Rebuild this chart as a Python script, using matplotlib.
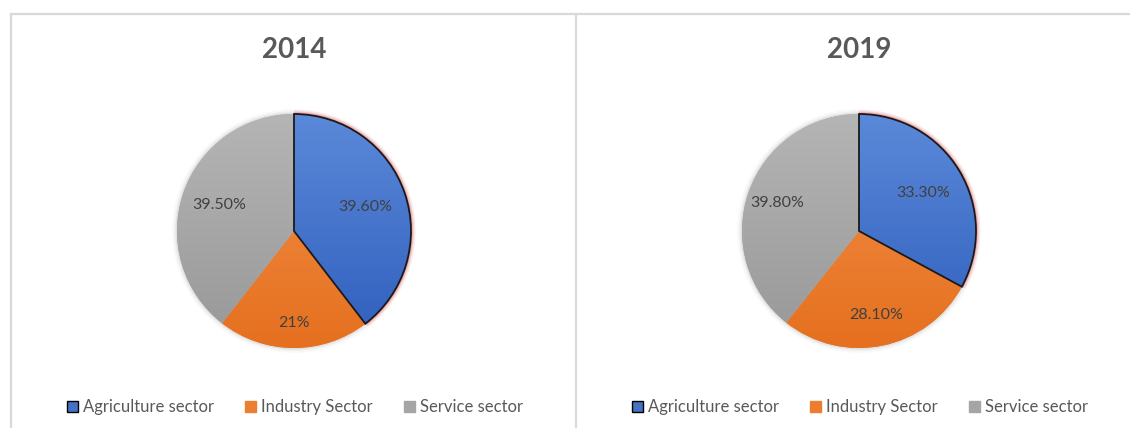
import numpy as np
import matplotlib.pyplot as plt
from matplotlib.colors import to_rgba
from matplotlib.patches import Patch, Arc, Circle, Wedge
from matplotlib.lines import Line2D

plt.rcParams['font.family'] = ['Lato', 'DejaVu Sans']

sectors = ['Agriculture sector', 'Industry Sector', 'Service sector']
share_2014 = [39.6, 21.0, 39.5]
share_2019 = [33.3, 28.1, 39.8]
labels_2014 = ['39.60%', '21%', '39.50%']
labels_2019 = ['33.30%', '28.10%', '39.80%']

base = ['#4472C4', '#ED7D31', '#A5A5A5']
tops = ['#5B89D9', '#F3904A', '#B5B5B5']
bottoms = ['#2F5EBD', '#E5701F', '#989898']

W, H = 1130, 428
fig = plt.figure(figsize=(W / 100, H / 100), dpi=100)


def px(x, y):
    return x / W, 1 - y / H


# chart frames
for xs, ys in [([11, 1130], [14, 14]), ([11, 11], [14, 428]), ([576, 576], [14, 428])]:
    fig.add_artist(Line2D([x / W for x in xs], [1 - y / H for y in ys],
                          color='#D9D9D9', lw=1.6))


def draw_pie(cx, cy, values, labels, title, dists):
    r = 117
    half = 140
    ax = fig.add_axes([(cx - half) / W, 1 - (cy + half) / H, 2 * half / W, 2 * half / H])
    lim = half / r
    ax.axis('off')

    # soft shadow round the pie
    for w, a in [(7, 0.05), (4, 0.08), (2, 0.12)]:
        ax.add_patch(Circle((0, 0), 1.0, fill=False, ec='#808080', lw=w, alpha=a, zorder=0.5))

    wedges, _ = ax.pie(values, startangle=90, counterclock=False, radius=1,
                       colors=base, wedgeprops=dict(lw=0))
    ax.set_xlim(-lim, lim)
    ax.set_ylim(-lim, lim)

    # top-to-bottom shading inside each slice
    for i, wd in enumerate(wedges):
        wd.set_zorder(1)
        c1 = np.array(to_rgba(tops[i]))
        c2 = np.array(to_rgba(bottoms[i]))
        t = np.linspace(0, 1, 256)[:, None, None]
        grad = c1 * (1 - t) + c2 * t
        im = ax.imshow(grad, extent=(-1, 1, -1, 1), origin='upper', aspect='auto',
                       interpolation='bilinear', zorder=1.1)
        im.set_clip_path(wd)

    # red glow and dark outline on the first slice
    blue = wedges[0]
    for w, a in [(6, 0.08), (4, 0.12), (2.5, 0.2)]:
        ax.add_patch(Arc((0, 0), 2.0, 2.0, theta1=blue.theta1, theta2=blue.theta2,
                         ec='#FF3030', lw=w, alpha=a, zorder=0.8))
    ax.add_patch(Wedge((0, 0), 1.0, blue.theta1, blue.theta2,
                       fill=False, ec='#1A1A1A', lw=1.3, zorder=2))

    for i, wd in enumerate(wedges):
        mid = np.deg2rad((wd.theta1 + wd.theta2) / 2)
        ax.text(dists[i] * np.cos(mid), dists[i] * np.sin(mid), labels[i],
                ha='center', va='center', fontsize=11.5, color='#404040', zorder=3)

    fig.text(*px(cx, 50), title, ha='center', va='center', fontsize=20,
             fontweight='bold', color='#595959')

    handles = [Patch(facecolor=base[i], edgecolor='black' if i == 0 else base[i], lw=1)
               for i in range(3)]
    fig.legend(handles, sectors, loc='center', bbox_to_anchor=px(cx + 1, 407), ncol=3,
               frameon=False, fontsize=12, handlelength=0.65, handleheight=0.65,
               handletextpad=0.3, columnspacing=1.9, labelcolor='#595959')


draw_pie(294, 231, share_2014, labels_2014, '2014', [0.64, 0.79, 0.68])
draw_pie(859, 231, share_2019, labels_2019, '2019', [0.64, 0.73, 0.74])

fig.savefig('out.png', dpi=100)
